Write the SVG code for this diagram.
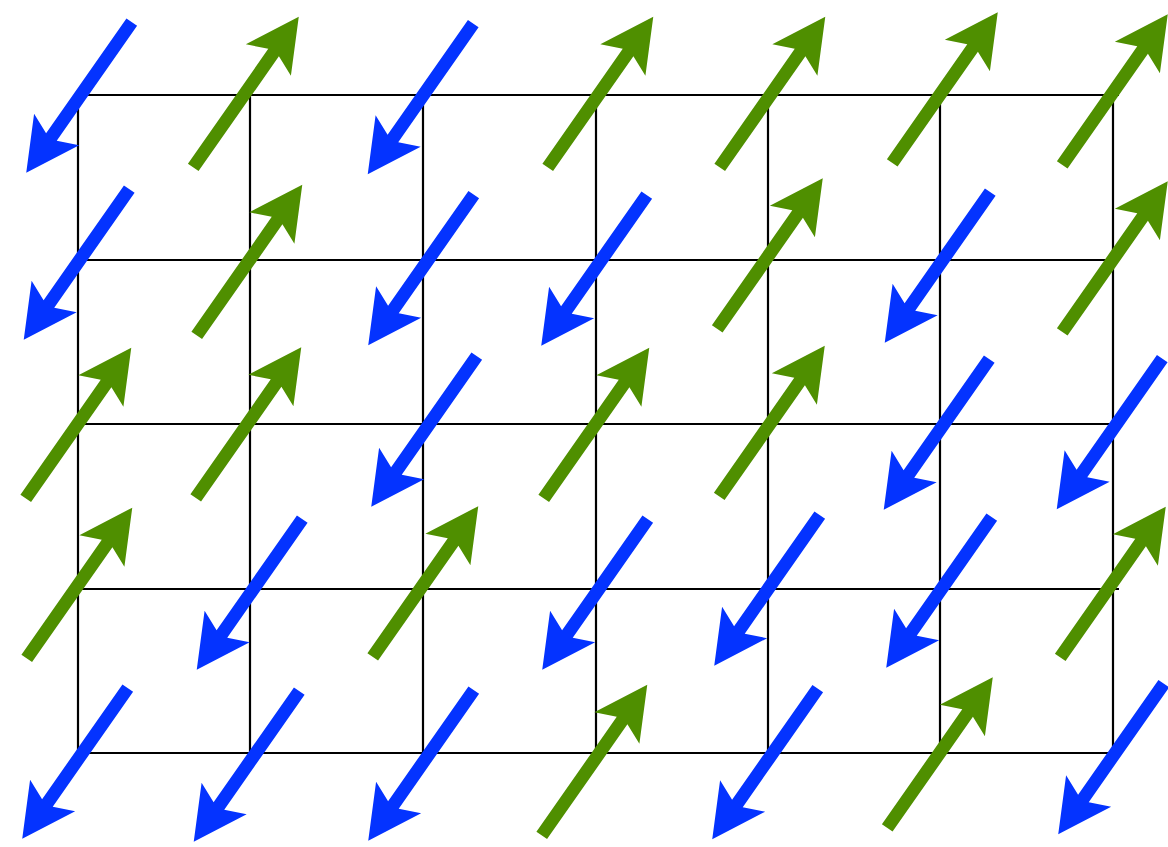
<svg xmlns="http://www.w3.org/2000/svg" xmlns:xlink="http://www.w3.org/1999/xlink" width="1168" height="847" viewBox="0 0 1168 847">
<style>
.grid line{stroke:#000;stroke-width:2.2;fill:none}
.b{fill:#0433FF}
.g{fill:#4F8F00}
</style>
<defs>
<polygon id="arr" points="-92,-6.5 48.1,-6.5 39,-27.5 92,0 39,27.5 48.1,6.5 -92,6.5"/>
</defs>
<rect width="1168" height="847" fill="#fff"/>
<g id="grid" class="grid">
<line x1="78" y1="95" x2="1119" y2="95"/>
<line x1="78" y1="260" x2="1113" y2="260"/>
<line x1="78" y1="424" x2="1113" y2="424"/>
<line x1="78" y1="589" x2="1119" y2="589"/>
<line x1="78" y1="753" x2="1113" y2="753"/>
<line x1="78" y1="94" x2="78" y2="754"/>
<line x1="250" y1="94" x2="250" y2="754"/>
<line x1="423" y1="94" x2="423" y2="754"/>
<line x1="596" y1="94" x2="596" y2="754"/>
<line x1="768" y1="94" x2="768" y2="754"/>
<line x1="940" y1="94" x2="940" y2="754"/>
<line x1="1113" y1="94" x2="1113" y2="754"/>
</g>
<g id="arrows">
<use xlink:href="#arr" class="b" transform="translate(79,97.5) rotate(125)"/>
<use xlink:href="#arr" class="g" transform="translate(246,92) rotate(-55)"/>
<use xlink:href="#arr" class="b" transform="translate(420.5,99) rotate(125)"/>
<use xlink:href="#arr" class="g" transform="translate(600.5,92) rotate(-55)"/>
<use xlink:href="#arr" class="g" transform="translate(772.5,92) rotate(-55)"/>
<use xlink:href="#arr" class="g" transform="translate(945,87.5) rotate(-55)"/>
<use xlink:href="#arr" class="g" transform="translate(1115,89.5) rotate(-55)"/>

<use xlink:href="#arr" class="b" transform="translate(76.5,264.5) rotate(125)"/>
<use xlink:href="#arr" class="g" transform="translate(249.5,260) rotate(-55)"/>
<use xlink:href="#arr" class="b" transform="translate(421,270) rotate(125)"/>
<use xlink:href="#arr" class="b" transform="translate(594,270.5) rotate(125)"/>
<use xlink:href="#arr" class="g" transform="translate(770,253.5) rotate(-55)"/>
<use xlink:href="#arr" class="b" transform="translate(937.5,267.5) rotate(125)"/>
<use xlink:href="#arr" class="g" transform="translate(1115,256.5) rotate(-55)"/>

<use xlink:href="#arr" class="g" transform="translate(78.5,423) rotate(-55)"/>
<use xlink:href="#arr" class="g" transform="translate(248.5,422.5) rotate(-55)"/>
<use xlink:href="#arr" class="b" transform="translate(424,431.5) rotate(125)"/>
<use xlink:href="#arr" class="g" transform="translate(596.5,423) rotate(-55)"/>
<use xlink:href="#arr" class="g" transform="translate(772,421) rotate(-55)"/>
<use xlink:href="#arr" class="b" transform="translate(936.5,434.5) rotate(125)"/>
<use xlink:href="#arr" class="b" transform="translate(1109.5,434) rotate(125)"/>

<use xlink:href="#arr" class="g" transform="translate(79.5,583) rotate(-55)"/>
<use xlink:href="#arr" class="b" transform="translate(249.5,594.5) rotate(125)"/>
<use xlink:href="#arr" class="g" transform="translate(425.5,581.5) rotate(-55)"/>
<use xlink:href="#arr" class="b" transform="translate(595,594.5) rotate(125)"/>
<use xlink:href="#arr" class="b" transform="translate(767,590.5) rotate(125)"/>
<use xlink:href="#arr" class="b" transform="translate(939,592.5) rotate(125)"/>
<use xlink:href="#arr" class="g" transform="translate(1113,582) rotate(-55)"/>

<use xlink:href="#arr" class="b" transform="translate(75,763.5) rotate(125)"/>
<use xlink:href="#arr" class="b" transform="translate(246.5,766.5) rotate(125)"/>
<use xlink:href="#arr" class="b" transform="translate(421,765.5) rotate(125)"/>
<use xlink:href="#arr" class="g" transform="translate(594.5,760) rotate(-55)"/>
<use xlink:href="#arr" class="b" transform="translate(765,764) rotate(125)"/>
<use xlink:href="#arr" class="g" transform="translate(940,752.5) rotate(-55)"/>
<use xlink:href="#arr" class="b" transform="translate(1111,759) rotate(125)"/>
</g>
</svg>
